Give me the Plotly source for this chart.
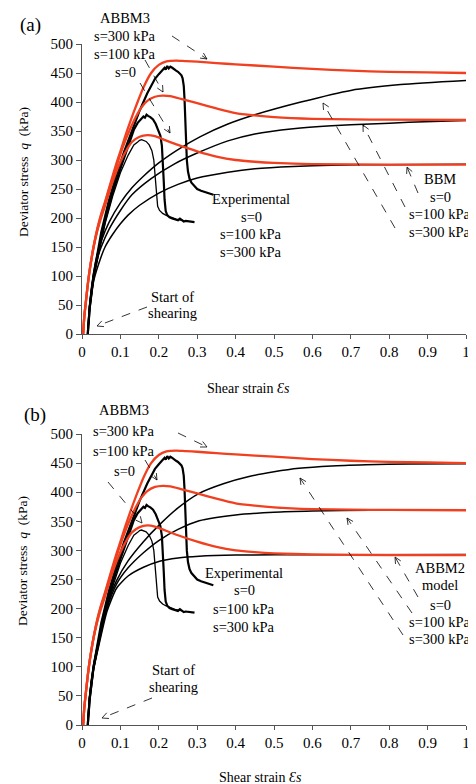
import math
import plotly.graph_objects as go
from plotly.subplots import make_subplots

# ---------------- data ----------------
# ABBM3 model (red), same in both panels
abbm3_300_x = [0.003,0.006,0.01,0.015,0.02,0.03,0.04,0.05,0.06,0.075,0.09,0.1,0.112,0.125,0.143,0.16,0.18,0.2,0.22,0.245,0.27,0.3,0.35,0.4,0.5,0.6,0.7,0.8,0.9,1.0]
abbm3_300_q = [0,30,55,85,110,150,182,207,228,262,295,315,340,365,397,425,450,464,470,471.5,470.5,469.5,467,465,461,457,454,452,451,450]
abbm3_100_x = [0.003,0.006,0.01,0.015,0.02,0.03,0.04,0.05,0.06,0.075,0.09,0.1,0.112,0.125,0.14,0.155,0.17,0.19,0.21,0.23,0.26,0.3,0.35,0.4,0.45,0.5,0.6,0.7,0.8,1.0]
abbm3_100_q = [0,30,55,85,110,150,181,205,226,259,290,310,332,353,374,391,402,409,411,410,405,398,389,381,377,374,371,370,369.5,369]
abbm3_0_x = [0.003,0.006,0.01,0.015,0.02,0.03,0.04,0.05,0.06,0.075,0.09,0.1,0.115,0.13,0.15,0.17,0.19,0.21,0.25,0.3,0.35,0.4,0.45,0.5,0.6,0.8,1.0]
abbm3_0_q = [0,30,55,85,110,149,178,201,221,253,281,297,316,331,340,343,341,336,326,315,306,300,297,295,293,292,292]

# BBM model (black, panel a)
bbm_0_x = [0.015,0.02,0.03,0.042,0.06,0.08,0.1,0.12,0.15,0.2,0.25,0.3,0.38,0.45,0.55,0.65,0.8,1.0]
bbm_0_q = [0,45,90,118,150,172,190,205,222,243,258,269,279,285,289,291,292,292.5]
bbm_100_x = [0.015,0.02,0.03,0.04,0.05,0.07,0.1,0.13,0.18,0.24,0.3,0.38,0.45,0.55,0.65,0.75,0.85,1.0]
bbm_100_q = [0,50,100,130,150,180,213,240,268,293,312,333,345,354,359,362,365,368]
bbm_300_x = [0.015,0.02,0.03,0.04,0.05,0.07,0.1,0.13,0.16,0.2,0.25,0.307,0.38,0.45,0.57,0.7,0.83,1.0]
bbm_300_q = [0,52,105,138,160,192,226,252,272,295,318,340,362,378,400,420,430,437]

# ABBM2 model (black, panel b)
abbm2_0_x = [0.015,0.02,0.03,0.045,0.065,0.09,0.12,0.16,0.2,0.25,0.305,0.4,0.6,1.0]
abbm2_0_q = [0,48,95,140,195,235,256,271,281,287,290,292,292.5,293]
abbm2_100_x = [0.015,0.02,0.03,0.045,0.065,0.09,0.12,0.16,0.2,0.25,0.305,0.4,0.5,0.6,0.75,1.0]
abbm2_100_q = [0,50,100,146,200,242,270,296,317,336,351,361,365.5,367.5,369,369.5]
abbm2_300_x = [0.015,0.02,0.03,0.045,0.065,0.09,0.12,0.16,0.2,0.25,0.305,0.37,0.435,0.5,0.565,0.65,0.74,0.85,1.0]
abbm2_300_q = [0,52,103,150,205,248,282,315,343,373,398,415,427,435,441,445,447,448.5,449]

# Experimental (black, both panels)
exp_300_x = [0.015,0.02,0.03,0.04,0.05,0.07,0.09,0.11,0.13,0.15,0.17,0.19,0.2,0.205,0.21,0.215,0.218,0.222,0.226,0.23,0.235,0.24,0.245,0.25,0.255,0.259,0.262,0.265,0.267,0.269,0.271,0.273,0.276,0.28,0.285,0.292,0.3,0.31,0.32,0.333,0.342]
exp_300_q = [0,45,100,140,175,230,275,315,350,385,415,440,448,452,455,459,456,462,458,461,459,456,454,452,449,446,441,428,405,370,330,300,280,268,261,255,250,247,245,243,240]
exp_100_x = [0.015,0.02,0.03,0.045,0.06,0.08,0.1,0.12,0.135,0.145,0.15,0.155,0.16,0.164,0.168,0.172,0.178,0.185,0.192,0.198,0.204,0.208,0.211,0.213,0.215,0.218,0.222,0.228,0.235,0.242,0.25,0.255,0.26,0.265,0.27,0.28,0.293]
exp_100_q = [0,45,98,150,195,245,285,325,352,364,368,372,375,373,378,376,374,370,362,352,342,325,295,262,232,212,205,201,199,197,196,199,197,194,195,194,193]
exp_0_x = [0.015,0.02,0.03,0.045,0.06,0.08,0.1,0.12,0.135,0.145,0.15,0.155,0.16,0.167,0.175,0.182,0.187,0.19,0.192,0.194,0.197,0.202,0.21,0.218,0.226,0.235,0.245,0.255,0.262]
exp_0_q = [0,42,95,145,190,238,278,308,326,331,334,335,334,332,326,316,300,275,250,232,220,213,208,205,203,200,198,197,196]

x_ticks = [0,0.1,0.2,0.3,0.4,0.5,0.6,0.7,0.8,0.9,1]
x_tick_labels = ["0","0.1","0.2","0.3","0.4","0.5","0.6","0.7","0.8","0.9","1"]
y_ticks = [0,50,100,150,200,250,300,350,400,450,500]

# ---------------- figure ----------------
OFF = 8                      # page body margin of the html page
W, H = 476 - OFF, 784 - OFF
ML, MT = 82 - OFF, 44 - OFF
MR = W - (466 - OFF)
MB = H - (725 - OFF)
PW, PH = W - ML - MR, H - MT - MB
FONT = "Liberation Serif"
RED = "#F0401F"

fig = make_subplots(rows=2, cols=1)

def line(x, q, row, color, width, shape="spline"):
    fig.add_trace(go.Scatter(x=x, y=q, mode="lines",
                             line=dict(color=color, width=width, shape=shape, smoothing=0.6),
                             hoverinfo="skip", showlegend=False), row=row, col=1)

for row in (1, 2):
    if row == 1:
        line(bbm_0_x, bbm_0_q, 1, "black", 1.5)
        line(bbm_100_x, bbm_100_q, 1, "black", 1.5)
        line(bbm_300_x, bbm_300_q, 1, "black", 1.5)
    else:
        line(abbm2_0_x, abbm2_0_q, 2, "black", 1.5)
        line(abbm2_100_x, abbm2_100_q, 2, "black", 1.5)
        line(abbm2_300_x, abbm2_300_q, 2, "black", 1.5)
    line(exp_0_x, exp_0_q, row, "black", 1.3, "linear")
    line(exp_100_x, exp_100_q, row, "black", 2.2, "linear")
    line(exp_300_x, exp_300_q, row, "black", 2.2, "linear")
    line(abbm3_0_x, abbm3_0_q, row, RED, 2.3)
    line(abbm3_100_x, abbm3_100_q, row, RED, 2.3)
    line(abbm3_300_x, abbm3_300_q, row, RED, 2.3)

def P(x, y):
    """window pixel -> paper coordinates"""
    return ((x - OFF) - ML) / PW, 1 - ((y - OFF) - MT) / PH

ya0 = P(0, 334)[1]
yb1 = P(0, 434)[1]

axis_common = dict(range=[0, 1], tickvals=x_ticks, ticktext=x_tick_labels,
                   showline=True, linecolor="#555555", linewidth=1.2,
                   ticks="outside", ticklen=4, tickcolor="#555555",
                   showgrid=False, zeroline=False, automargin=False,
                   tickfont=dict(family=FONT, size=15, color="black"))
yaxis_common = dict(range=[0, 500], tickvals=y_ticks,
                    showline=True, linecolor="#555555", linewidth=1.2,
                    ticks="outside", ticklen=5, tickcolor="#555555",
                    showgrid=False, zeroline=False, automargin=False,
                    tickfont=dict(family=FONT, size=15, color="black"))

fig.update_layout(
    width=W, height=H, margin=dict(l=ML, r=MR, t=MT, b=MB, autoexpand=False),
    paper_bgcolor="white", plot_bgcolor="white", showlegend=False,
    xaxis=dict(domain=[0, 1], anchor="y", **axis_common),
    yaxis=dict(domain=[ya0, 1], anchor="x", **yaxis_common),
    xaxis2=dict(domain=[0, 1], anchor="y2", **axis_common),
    yaxis2=dict(domain=[0, yb1], anchor="x2", **yaxis_common),
)

annotations = []
def text(t, x, y, size=14.5, angle=0):
    px, py = P(x, y)
    annotations.append(dict(text=t, x=px, y=py, xref="paper", yref="paper",
                            xanchor="center", yanchor="middle", showarrow=False,
                            textangle=angle,
                            font=dict(family=FONT, size=size, color="black")))

shapes = []
def arrow(x0, y0, x1, y1):
    a0, b0 = P(x0, y0)
    a1, b1 = P(x1, y1)
    shapes.append(dict(type="line", xref="paper", yref="paper", x0=a0, y0=b0, x1=a1, y1=b1,
                       line=dict(color="black", width=0.8, dash="dash")))
    ang = math.atan2(y0 - y1, x0 - x1)
    for d in (0.45, -0.45):
        hx = x1 + 7 * math.cos(ang + d)
        hy = y1 + 7 * math.sin(ang + d)
        c0, e0 = P(hx, hy)
        shapes.append(dict(type="line", xref="paper", yref="paper", x0=a1, y0=b1, x1=c0, y1=e0,
                           line=dict(color="black", width=0.8)))

# panel (a)
text("(a)", 30, 25, size=19)
for t, y in (("ABBM3", 18), ("s=300 kPa", 36), ("s=100 kPa", 54), ("s=0", 72)):
    text(t, 125, y)
for t, y in (("Experimental", 199), ("s=0", 217), ("s=100 kPa", 234), ("s=300 kPa", 252)):
    text(t, 251, y)
for t, y in (("BBM", 179), ("s=0", 197), ("s=100 kPa", 214), ("s=300 kPa", 232)):
    text(t, 440, y)
text("Start of", 172, 297)
text("shearing", 172, 313)
text("Deviator stress  <i>q</i>  (kPa)", 23, 172, size=13.5, angle=-90)
text("Shear strain <i>Ɛs</i>", 248, 388, size=14)
arrow(172, 36, 207, 59)
arrow(145, 60, 163, 92)
arrow(140, 83, 170, 133)
arrow(395, 228, 323, 103)
arrow(405, 207, 363, 125)
arrow(418, 193, 407, 167)
arrow(147, 307, 97, 326)

# panel (b)
text("(b)", 35, 415, size=19)
for t, y in (("ABBM3", 410), ("s=300 kPa", 431), ("s=100 kPa", 451), ("s=0", 471)):
    text(t, 124, y)
for t, y in (("Experimental", 573), ("s=0", 590), ("s=100 kPa", 609), ("s=300 kPa", 627)):
    text(t, 244, y)
for t, y in (("ABBM2", 568), ("model", 585), ("s=0", 605), ("s=100 kPa", 622), ("s=300 kPa", 639)):
    text(t, 440, y)
text("Start of", 173, 670)
text("shearing", 173, 687)
text("Deviator stress  <i>q</i>  (kPa)", 22, 561, size=13.5, angle=-90)
text("Shear strain <i>Ɛs</i>", 260, 777, size=14)
arrow(178, 433, 207, 447)
arrow(145, 460, 157, 480)
arrow(108, 482, 142, 523)
arrow(403, 635, 300, 478)
arrow(412, 613, 347, 518)
arrow(418, 597, 395, 557)
arrow(152, 698, 102, 718)

fig.update_layout(annotations=annotations, shapes=shapes)
fig.write_html("out.html")
